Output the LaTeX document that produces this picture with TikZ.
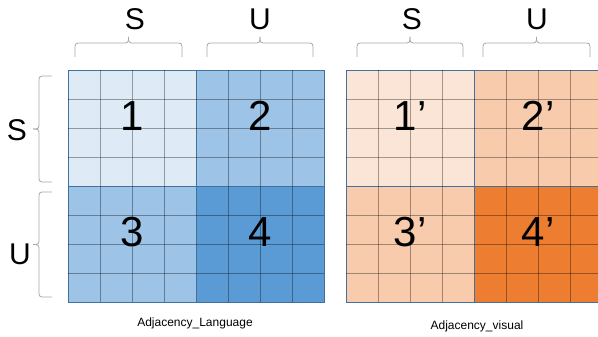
\documentclass[tikz,border=0pt]{standalone}
\usepackage{fontspec}
\setmainfont{Liberation Sans}
\usetikzlibrary{positioning}

\definecolor{blueA}{HTML}{DEEBF7}
\definecolor{blueB}{HTML}{9DC3E6}
\definecolor{blueC}{HTML}{5B9BD5}
\definecolor{orangeA}{HTML}{FBE5D6}
\definecolor{orangeB}{HTML}{F8CBAD}
\definecolor{orangeC}{HTML}{ED7D31}
\definecolor{frameblue}{HTML}{41719C}
\definecolor{bracegray}{HTML}{A6A6A6}

\begin{document}
\begin{tikzpicture}[
    x=1pt, y=-1pt,
    block/.style={draw=frameblue, line width=0.8pt, rectangle, minimum width=128pt, minimum height=116pt, inner sep=0pt},
    gridline/.style={draw=black, opacity=0.35, line width=0.7pt},
    bracket/.style={draw=bracegray, line width=0.8pt, rounded corners=3pt},
    num/.style={font=\fontsize{42}{48}\selectfont, inner sep=0pt},
    side/.style={font=\fontsize{30}{36}\selectfont, inner sep=0pt},
    caption/.style={font=\fontsize{12}{14}\selectfont, inner sep=0pt}
]
    \useasboundingbox (0,0) rectangle (598,337);
    \clip (0,0) rectangle (598,337);

    % ================= BLOCKS =================
    \node[block, fill=blueA] (L1) at (132,128) {};
    \node[block, fill=blueB] (L2) at (260,128) {};
    \node[block, fill=blueB] (L3) at (132,244) {};
    \node[block, fill=blueC] (L4) at (260,244) {};

    \node[block, fill=orangeA] (V1) at (410,128) {};
    \node[block, fill=orangeB] (V2) at (538,128) {};
    \node[block, fill=orangeB] (V3) at (410,244) {};
    \node[block, fill=orangeC] (V4) at (538,244) {};

    % ================= GRID =================
    \foreach \xo in {68,346} {
        \foreach \i in {1,2,3,5,6,7} {
            \draw[gridline] ({\xo+32*\i},70) -- ({\xo+32*\i},302);
            \draw[gridline] (\xo,{70+29*\i}) -- ({\xo+256},{70+29*\i});
        }
    }

    % ================= NUMBERS =================
    \node[num] (n1) at ([yshift=12pt]L1.center) {1};
    \node[num] (n2) at ([yshift=12pt]L2.center) {2};
    \node[num] (n3) at ([yshift=12pt]L3.center) {3};
    \node[num] (n4) at ([yshift=12pt]L4.center) {4};
    \node[num] (m1) at ([yshift=12pt]V1.center) {1’};
    \node[num] (m2) at ([yshift=12pt]V2.center) {2’};
    \node[num] (m3) at ([yshift=12pt]V3.center) {3’};
    \node[num] (m4) at ([yshift=12pt]V4.center) {4’};

    % ================= BRACES =================
    \foreach \a/\b in {75/182, 207/313, 357/463, 483/590} {
        \draw[bracket] (\a,57) -- (\a,43) -- ({(\a+\b)/2},43) -- ({(\a+\b)/2},37);
        \draw[bracket] ({(\a+\b)/2},37) -- ({(\a+\b)/2},43) -- (\b,43) -- (\b,57);
    }
    \foreach \a/\b in {76/182, 192/297} {
        \draw[bracket] (52,\a) -- (39,\a) -- (39,{(\a+\b)/2}) -- (33,{(\a+\b)/2});
        \draw[bracket] (33,{(\a+\b)/2}) -- (39,{(\a+\b)/2}) -- (39,\b) -- (52,\b);
    }

    % ================= BRACE LABELS =================
    \node[side] (S_lang_top) at (135,19) {S};
    \node[side] (U_lang_top) at (260,19) {U};
    \node[side] (S_vis_top) at (412,19) {S};
    \node[side] (U_vis_top) at (537,19) {U};
    \node[side] (S_side) at (17,130) {S};
    \node[side] (U_side) at (20,254) {U};

    % ================= CAPTIONS =================
    \node[caption] (cap_lang) at (195,323) {Adjacency\_Language};
    \node[caption] (cap_vis) at (477,326) {Adjacency\_visual};

\end{tikzpicture}
\end{document}
